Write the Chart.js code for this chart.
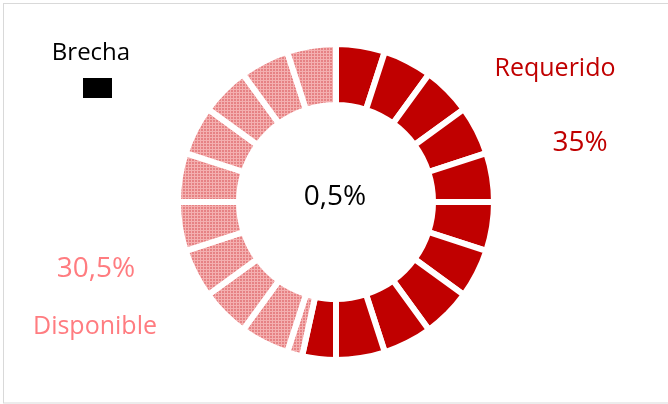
<!DOCTYPE html>
<html>
<head>
  <meta charset="utf-8">
  <title>Brecha Requerido / Disponible</title>
  <script src="https://cdn.jsdelivr.net/npm/chart.js"></script>
  <style>
    body {
      margin: 0;
      padding: 0;
      background: #fff;
    }
    #wrap {
      width: 668px;
      height: 404px;
      position: relative;
    }
  </style>
</head>
<body>
  <div id="wrap"><canvas id="myChart"></canvas></div>

  <script>
    // ring segments, clockwise from 12 o'clock (R = requerido, D = disponible)
    const segmentValues = [1, 1, 1, 1, 1, 1, 1, 1, 1, 1, 0.69, 0.31, 1, 1, 1, 1, 1, 1, 1, 1, 1];
    const segmentTypes  = ['R','R','R','R','R','R','R','R','R','R','R','D','D','D','D','D','D','D','D','D','D'];

    const seriesNames  = ['Requerido', 'Disponible', 'Brecha'];
    const seriesLabels = ['35%', '30,5%', '0,5%'];

    const RED = '#c00000';
    const PINK = '#ff7c80';

    // dotted pink fill like the excel pattern
    function makePattern() {
      const c = document.createElement('canvas');
      c.width = 3;
      c.height = 3;
      const g = c.getContext('2d');
      g.fillStyle = '#f4b0b0';
      g.fillRect(0, 0, 3, 3);
      g.fillStyle = '#e68284';
      g.fillRect(0, 0, 2, 2);
      return g.createPattern(c, 'repeat');
    }

    const ctx = document.getElementById('myChart').getContext('2d');
    const pinkPattern = makePattern();

    const textPlugin = {
      id: 'texts',
      beforeDraw(chart) {
        const c = chart.ctx;
        c.save();
        c.strokeStyle = '#d9d9d9';
        c.lineWidth = 1;
        c.strokeRect(3.5, 3.5, 700, 399.5);
        c.restore();
      },
      afterDraw(chart) {
        const c = chart.ctx;
        c.save();
        c.textAlign = 'center';
        c.textBaseline = 'alphabetic';

        c.font = '24px "Open Sans"';
        c.fillStyle = '#000';
        c.fillText(seriesNames[2], 91, 60);
        c.fillRect(83, 78, 29, 20);

        c.font = '25px "Open Sans"';
        c.fillStyle = RED;
        c.fillText(seriesNames[0], 555, 76);
        c.fillStyle = PINK;
        c.fillText(seriesNames[1], 95, 334);

        c.font = '28px "Open Sans"';
        c.fillStyle = RED;
        c.fillText(seriesLabels[0], 580, 151);
        c.fillStyle = PINK;
        c.fillText(seriesLabels[1], 96, 277);
        c.fillStyle = '#000';
        c.fillText(seriesLabels[2], 335, 205);
        c.restore();
      }
    };

    const chart = new Chart(ctx, {
      type: 'doughnut',
      data: {
        labels: segmentTypes,
        datasets: [{
          data: segmentValues,
          backgroundColor: segmentTypes.map(t => t === 'R' ? RED : pinkPattern),
          borderColor: '#fff',
          borderWidth: 6,
          hoverOffset: 0
        }]
      },
      options: {
        responsive: true,
        maintainAspectRatio: false,
        animation: false,
        radius: 158,
        cutout: '61.4%',
        layout: {
          padding: { left: 4, right: 0, top: 0, bottom: 0 }
        },
        plugins: {
          legend: { display: false },
          tooltip: { enabled: false }
        },
        events: []
      },
      plugins: [textPlugin]
    });
  </script>
</body>
</html>
